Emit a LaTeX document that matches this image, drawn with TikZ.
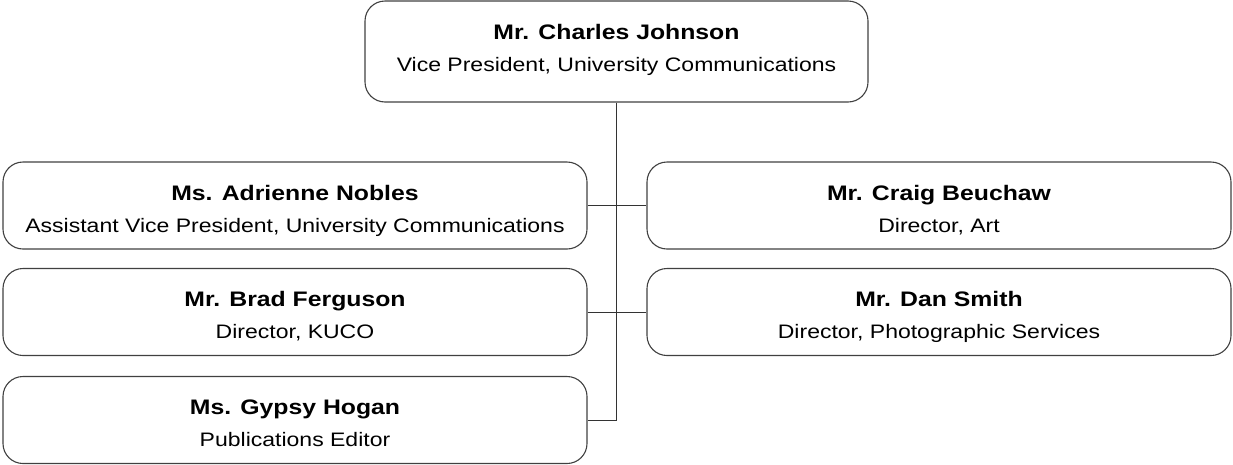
\documentclass[tikz,border=0pt]{standalone}
\usepackage{fontspec}
\setmainfont[FakeStretch=1.18]{Liberation Sans}
\begin{document}
\begin{tikzpicture}[x=1pt,y=-1pt,
  box/.style={draw=black!75, line width=1.1pt, rounded corners=20pt,
    minimum width=584pt, minimum height=87pt, inner sep=0pt},
  nm/.style={anchor=base, font=\fontsize{21}{25}\selectfont\bfseries, inner sep=0pt},
  rl/.style={anchor=base, font=\fontsize{19.5}{23}\selectfont, inner sep=0pt},
  conn/.style={draw=black!80, line width=1pt}]
\useasboundingbox (0,0) rectangle (1233,464);
% boxes
\node[box, minimum width=503pt, minimum height=101pt] (top) at (616.5,51.5) {};
\node[box] (a) at (295,205.5) {};
\node[box] (b) at (295,312) {};
\node[box] (g) at (295,420) {};
\node[box] (c) at (939,205.5) {};
\node[box] (d) at (939,312) {};
% texts
\node[nm] (topN) at ([yshift=-39pt]top.north) {Mr. Charles Johnson};
\node[rl] (topR) at ([yshift=-71pt]top.north) {Vice President, University Communications};
\node[nm] (aN) at ([yshift=-39pt]a.north) {Ms. Adrienne Nobles};
\node[rl] (aR) at ([yshift=-71pt]a.north) {Assistant Vice President, University Communications};
\node[nm] (bN) at ([yshift=-39pt]b.north) {Mr. Brad Ferguson};
\node[rl] (bR) at ([yshift=-71pt]b.north) {Director, KUCO};
\node[nm] (gN) at ([yshift=-39pt]g.north) {Ms. Gypsy Hogan};
\node[rl] (gR) at ([yshift=-71pt]g.north) {Publications Editor};
\node[nm] (cN) at ([yshift=-39pt]c.north) {Mr. Craig Beuchaw};
\node[rl] (cR) at ([yshift=-71pt]c.north) {Director, Art};
\node[nm] (dN) at ([yshift=-39pt]d.north) {Mr. Dan Smith};
\node[rl] (dR) at ([yshift=-71pt]d.north) {Director, Photographic Services};
% connectors
\coordinate (trunk) at (top.south |- g.east);
\draw[conn] (top.south) -- (trunk) -- (g.east);
\draw[conn] (a.east) -- (c.west);
\draw[conn] (b.east) -- (d.west);
\end{tikzpicture}
\end{document}
